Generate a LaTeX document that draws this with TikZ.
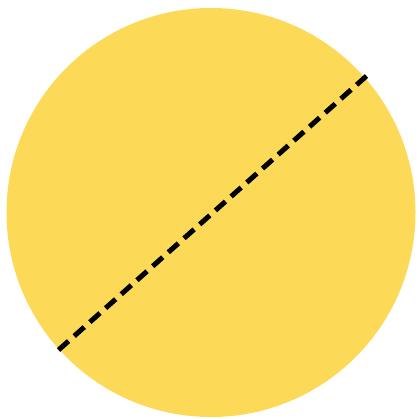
\documentclass[tikz,border=0pt]{standalone}
\definecolor{discfill}{RGB}{253,217,88}
\begin{document}
\begin{tikzpicture}[x=1pt, y=-1pt]
  \useasboundingbox (0,0) rectangle (419,419);
  \fill[discfill] (211,212.5) circle (204.5);
  \coordinate (lo) at (58.5,350);
  \coordinate (hi) at (366.5,76);
  \draw[line width=5pt, dash pattern=on 13.5pt off 7.5pt] (lo) -- (hi);
\end{tikzpicture}
\end{document}
